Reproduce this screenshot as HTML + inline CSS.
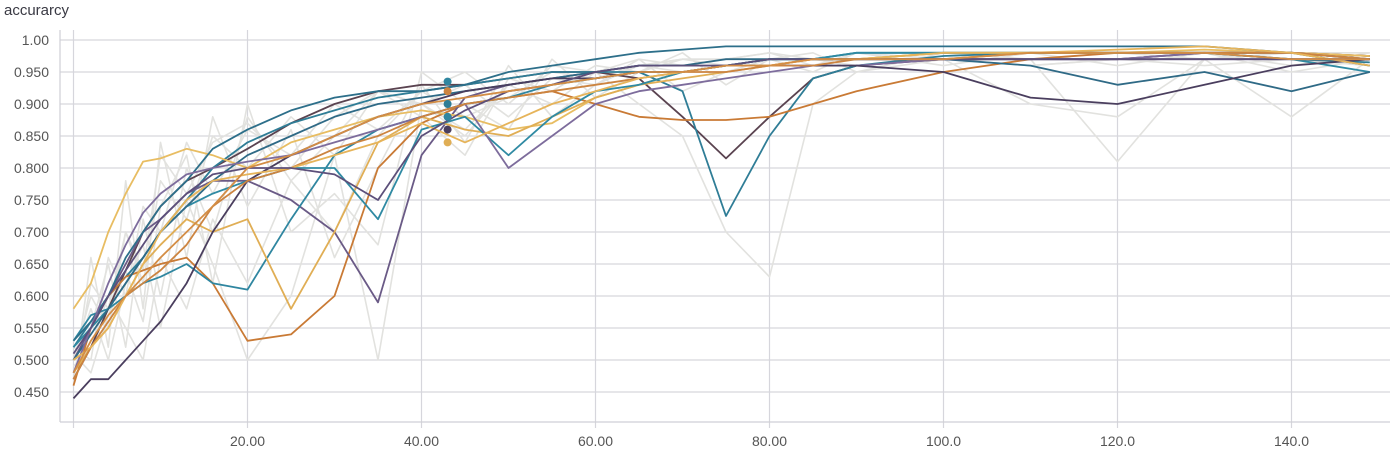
<!DOCTYPE html>
<html><head><meta charset="utf-8"><style>
html,body{margin:0;padding:0;background:#fff;width:1400px;height:450px;overflow:hidden;font-family:"Liberation Sans",sans-serif}
</style></head><body>
<svg id="chart" width="1400" height="450" xmlns="http://www.w3.org/2000/svg">
<text x="4" y="15" font-size="15" fill="#3a3a44">accurarcy</text>
<g id="grid"></g>
<g id="series"></g>
<g id="axes"></g>
</svg>
<script>
const xTicks=[20,40,60,80,100,120,140];
const xTickLabels=["20.00","40.00","60.00","80.00","100.0","120.0","140.0"];
const yTicks=[0.45,0.5,0.55,0.6,0.65,0.7,0.75,0.8,0.85,0.9,0.95,1.0];
const yTickLabels=["0.450","0.500","0.550","0.600","0.650","0.700","0.750","0.800","0.850","0.900","0.950","1.00"];
const steps=[0,2,4,6,8,10,13,16,20,25,30,35,40,45,50,55,60,65,70,75,80,85,90,100,110,120,130,140,149];
const greyA=[0.50,0.60,0.55,0.70,0.62,0.78,0.72,0.85,0.80,0.88,0.82,0.92,0.90,0.85,0.93,0.90,0.95,0.90,0.85,0.70,0.63,0.90,0.95,0.97,0.96,0.97,0.96,0.97,0.96];
const greyB=[0.48,0.55,0.65,0.52,0.72,0.60,0.80,0.70,0.88,0.78,0.85,0.92,0.88,0.82,0.94,0.92,0.96,0.95,0.97,0.97,0.98,0.96,0.98,0.97,0.97,0.81,0.97,0.98,0.97];
const greyC=[0.50,0.58,0.50,0.62,0.68,0.55,0.75,0.65,0.50,0.60,0.82,0.50,0.90,0.86,0.93,0.94,0.95,0.96,0.97,0.97,0.97,0.97,0.97,0.97,0.90,0.88,0.97,0.88,0.97];
const greyD=[0.47,0.62,0.58,0.70,0.64,0.82,0.76,0.84,0.87,0.80,0.88,0.92,0.90,0.93,0.88,0.94,0.93,0.96,0.95,0.96,0.96,0.97,0.96,0.97,0.97,0.97,0.98,0.96,0.98];
const greyE=[0.49,0.52,0.60,0.55,0.50,0.66,0.58,0.72,0.62,0.78,0.70,0.85,0.92,0.88,0.91,0.95,0.94,0.96,0.97,0.96,0.97,0.97,0.98,0.97,0.96,0.97,0.97,0.97,0.96];
const greyF=[0.52,0.50,0.66,0.60,0.74,0.70,0.84,0.76,0.86,0.82,0.90,0.86,0.92,0.95,0.90,0.96,0.95,0.97,0.96,0.97,0.98,0.97,0.98,0.98,0.98,0.98,0.98,0.98,0.98];
const greyG=[0.46,0.66,0.52,0.78,0.58,0.84,0.66,0.88,0.74,0.86,0.66,0.80,0.93,0.84,0.96,0.88,0.93,0.97,0.92,0.95,0.97,0.95,0.98,0.96,0.98,0.96,0.98,0.95,0.97];
const greyH=[0.51,0.48,0.57,0.64,0.56,0.74,0.82,0.62,0.90,0.70,0.76,0.68,0.95,0.90,0.86,0.97,0.91,0.95,0.98,0.93,0.97,0.98,0.95,0.98,0.97,0.98,0.97,0.98,0.97];
const run1=[0.47,0.52,0.58,0.64,0.70,0.74,0.78,0.80,0.83,0.87,0.90,0.92,0.93,0.93,0.94,0.95,0.95,0.94,0.88,0.815,0.88,0.94,0.96,0.97,0.97,0.97,0.98,0.98,0.975];
const run2=[0.52,0.56,0.60,0.63,0.66,0.70,0.75,0.80,0.84,0.87,0.89,0.91,0.92,0.93,0.94,0.95,0.95,0.95,0.92,0.725,0.85,0.94,0.96,0.975,0.98,0.98,0.98,0.97,0.965];
const run3=[0.46,0.55,0.60,0.63,0.64,0.65,0.66,0.62,0.53,0.54,0.60,0.80,0.87,0.90,0.91,0.92,0.90,0.88,0.875,0.875,0.88,0.90,0.92,0.95,0.97,0.98,0.98,0.98,0.975];
const run4=[0.50,0.55,0.60,0.65,0.70,0.72,0.76,0.78,0.78,0.75,0.70,0.59,0.82,0.91,0.93,0.94,0.95,0.96,0.96,0.96,0.97,0.97,0.97,0.97,0.97,0.97,0.97,0.97,0.97];
const run5=[0.53,0.57,0.58,0.60,0.62,0.63,0.65,0.62,0.61,0.72,0.82,0.86,0.88,0.90,0.91,0.93,0.94,0.95,0.95,0.96,0.97,0.97,0.98,0.98,0.98,0.98,0.98,0.98,0.97];
const run6=[0.58,0.62,0.70,0.76,0.81,0.815,0.83,0.82,0.80,0.84,0.86,0.88,0.89,0.88,0.86,0.87,0.91,0.93,0.95,0.96,0.96,0.97,0.97,0.98,0.98,0.98,0.985,0.98,0.975];
const run7=[0.48,0.52,0.55,0.60,0.65,0.68,0.72,0.70,0.72,0.58,0.70,0.84,0.88,0.86,0.85,0.88,0.91,0.93,0.94,0.95,0.96,0.97,0.97,0.98,0.98,0.98,0.98,0.98,0.97];
const run8=[0.52,0.55,0.58,0.62,0.66,0.70,0.74,0.76,0.78,0.80,0.80,0.72,0.86,0.88,0.82,0.88,0.92,0.93,0.95,0.96,0.97,0.97,0.98,0.98,0.98,0.98,0.98,0.97,0.95];
const run9=[0.53,0.56,0.60,0.66,0.70,0.74,0.78,0.83,0.86,0.89,0.91,0.92,0.92,0.93,0.95,0.96,0.97,0.98,0.985,0.99,0.99,0.99,0.99,0.99,0.99,0.99,0.99,0.98,0.96];
const run10=[0.50,0.54,0.58,0.62,0.66,0.70,0.74,0.78,0.82,0.85,0.88,0.90,0.91,0.92,0.93,0.94,0.95,0.96,0.96,0.97,0.97,0.97,0.97,0.97,0.96,0.93,0.95,0.92,0.95];
const run11=[0.48,0.55,0.62,0.68,0.73,0.76,0.79,0.80,0.81,0.82,0.84,0.86,0.88,0.90,0.80,0.85,0.90,0.92,0.93,0.94,0.95,0.96,0.96,0.97,0.97,0.97,0.98,0.98,0.97];
const run12=[0.44,0.47,0.47,0.50,0.53,0.56,0.62,0.70,0.78,0.82,0.85,0.88,0.90,0.92,0.93,0.94,0.94,0.95,0.95,0.96,0.96,0.96,0.96,0.95,0.91,0.90,0.93,0.96,0.97];
const run13=[0.47,0.52,0.56,0.60,0.62,0.64,0.68,0.74,0.78,0.80,0.83,0.85,0.88,0.90,0.91,0.92,0.93,0.94,0.95,0.95,0.96,0.96,0.97,0.97,0.98,0.98,0.98,0.98,0.97];
const run14=[0.50,0.52,0.55,0.60,0.65,0.70,0.75,0.78,0.79,0.80,0.82,0.84,0.87,0.84,0.87,0.90,0.92,0.94,0.95,0.96,0.96,0.97,0.97,0.98,0.98,0.985,0.99,0.98,0.96];
const run15=[0.51,0.55,0.60,0.64,0.68,0.72,0.76,0.79,0.80,0.80,0.79,0.75,0.85,0.89,0.92,0.93,0.95,0.96,0.96,0.96,0.97,0.97,0.97,0.97,0.97,0.97,0.97,0.97,0.97];
const run16=[0.48,0.53,0.57,0.60,0.63,0.66,0.70,0.74,0.80,0.82,0.85,0.88,0.90,0.91,0.92,0.93,0.94,0.95,0.95,0.96,0.96,0.97,0.97,0.97,0.98,0.98,0.98,0.97,0.97];
const markerStep=43;
const markerValues=[0.935,0.92,0.90,0.88,0.86,0.84];
const markerColors=["#2f86a0","#cc8440","#2f7d96","#2f86a0","#4a3e5e","#e0ae55"];

const greys=[greyA,greyB,greyC,greyD,greyE,greyF,greyG,greyH];
const runs=[run1,run2,run3,run4,run5,run6,run7,run8,run9,run10,run11,run12,run13,run14,run15,run16];
const runColors=["#5a4350","#2f7d96","#c97a35","#6a5a86","#2f86a0","#e8bd62","#e0ae55","#2f8aa3","#2d6f8a","#2f6a86","#7d6c9c","#4a3e5e","#cc8440","#e6b45a","#5c4f7a","#d38d45"];

const NS="http://www.w3.org/2000/svg";
const X=v=>73.5+v*8.7;
const Y=v=>40+(1-v)*640;
const grid=document.getElementById('grid'),axes=document.getElementById('axes'),ser=document.getElementById('series');
function mk(tag,attrs,parent){const e=document.createElementNS(NS,tag);for(const k in attrs)e.setAttribute(k,attrs[k]);parent.appendChild(e);return e;}

yTicks.forEach((t,i)=>{
  const l=mk('line',{x1:60,x2:1390,y1:Y(t),y2:Y(t),stroke:'#d6d6dc','stroke-width':1.2},grid);
  
  
  const tx=mk('text',{x:49,y:Y(t)+5,'text-anchor':'end','font-size':14,fill:'#555'},axes);
  tx.textContent=yTickLabels[i];
  
  
});
[0].concat(xTicks).forEach(t=>{
  const l=mk('line',{x1:X(t),x2:X(t),y1:30,y2:428,stroke:'#d6d6dc','stroke-width':1.2},grid);
  
  
});
xTicks.forEach((t,i)=>{
  const tx=mk('text',{x:X(t),y:446,'text-anchor':'middle','font-size':14,fill:'#555'},axes);
  tx.textContent=xTickLabels[i];
  
  
});
const ya=mk('line',{x1:60,x2:60,y1:30,y2:422,stroke:'#cfcfd6','stroke-width':1.2},axes);


const xa=mk('line',{x1:60,x2:1390,y1:422,y2:422,stroke:'#cfcfd6','stroke-width':1.2},axes);



function pts(vals){return vals.map((v,i)=>X(steps[i]).toFixed(1)+','+Y(v).toFixed(1)).join(' ');}
greys.forEach(g=>{
  const p=mk('polyline',{points:pts(g),fill:'none',stroke:'#e2e2df','stroke-width':1.6,'stroke-linejoin':'round'},ser);
  
  
});
runs.forEach((r,i)=>{
  const p=mk('polyline',{points:pts(r),fill:'none',stroke:runColors[i],'stroke-width':1.8,'stroke-linejoin':'round'},ser);
  
  
});
markerValues.forEach((v,i)=>{
  const c=mk('circle',{cx:X(markerStep),cy:Y(v),r:4,fill:markerColors[i]},ser);
  
  
});
</script>
</body></html>
